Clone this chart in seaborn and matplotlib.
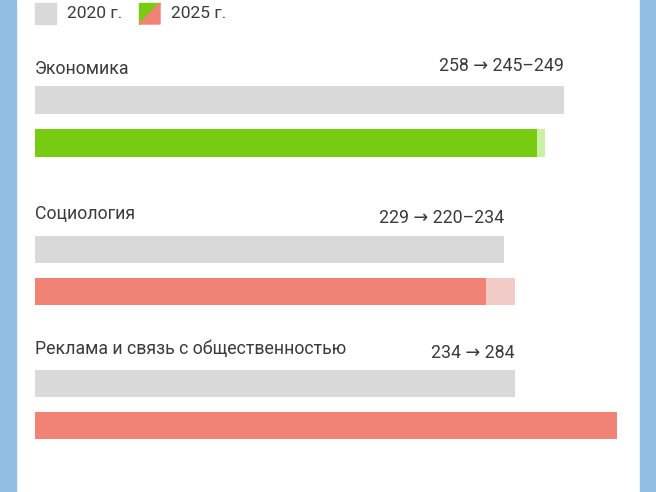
import matplotlib
matplotlib.use("Agg")
import matplotlib.pyplot as plt
from matplotlib.patches import Rectangle, Polygon
from matplotlib.transforms import blended_transform_factory
import seaborn as sns
import pandas as pd

# ---- data ----
categories = ["Экономика", "Социология", "Реклама и связь с общественностью"]
values_2020 = [258, 229, 234]
values_2025_low = [245, 220, 284]
values_2025_high = [249, 234, 284]
value_labels = ["258 → 245–249", "229 → 220–234", "234 → 284"]
legend_labels = ["2020 г.", "2025 г."]

# ---- style ----
sns.set_theme(style="white")
plt.rcParams["font.family"] = ["Roboto", "DejaVu Sans"]
TEXT = "#3b3b3b"
GRAY = "#d9d9d9"
main_colors = ["#77cc12", "#f08276", "#f08276"]
light_colors = ["#ccf0a6", "#f2cbc6", "#f2cbc6"]
BLUE = "#93bee4"
FS = 12.8

W, H = 656, 492
fig = plt.figure(figsize=(W / 100, H / 100), dpi=100)
fig.patch.set_facecolor("white")

# side strips
fig.add_artist(Rectangle((0, 0), 16 / W, 1, transform=fig.transFigure, color=BLUE, zorder=0))
fig.add_artist(Rectangle((640 / W, 0), 16 / W, 1, transform=fig.transFigure, color=BLUE, zorder=0))

def fy(py):
    return 1 - py / H

# legend
fig.add_artist(Rectangle((35 / W, fy(24)), 21 / W, 21 / H, transform=fig.transFigure, color=GRAY))
fig.text(67 / W, fy(14), legend_labels[0], fontsize=12.5, color=TEXT, va="center", ha="left")
x0, x1, y0, y1 = 139 / W, 160 / W, fy(24), fy(3)
fig.add_artist(Polygon([(x0, y0), (x0, y1), (x1, y1)], closed=True, transform=fig.transFigure, color=main_colors[0]))
fig.add_artist(Polygon([(x0, y0), (x1, y1), (x1, y0)], closed=True, transform=fig.transFigure, color=main_colors[1]))
fig.text(171 / W, fy(14), legend_labels[1], fontsize=12.5, color=TEXT, va="center", ha="left")

# layout per group: (axes top px, axes bottom px, label y px, value-label y px)
layout = [(78.5, 164.5, 69.5, 66), (229, 312, 214, 218), (363, 446, 349, 353)]
ax_left, ax_right = 35, 640
px_per_unit = 2.05
xmax = (ax_right - ax_left) / px_per_unit

for i, cat in enumerate(categories):
    top, bot, ly, vy = layout[i]
    ax = fig.add_axes([ax_left / W, fy(bot), (ax_right - ax_left) / W, (bot - top) / H])
    rows = ["2020", "2025"]
    df_hi = pd.DataFrame({"year": rows, "value": [values_2020[i], values_2025_high[i]]})
    df_lo = pd.DataFrame({"year": rows, "value": [values_2020[i], values_2025_low[i]]})
    sns.barplot(data=df_hi, x="value", y="year", hue="year", orient="h",
                palette=[GRAY, light_colors[i]], width=0.65, legend=False, ax=ax,
                saturation=1, linewidth=0)
    sns.barplot(data=df_lo, x="value", y="year", hue="year", orient="h",
                palette=[GRAY, main_colors[i]], width=0.65, legend=False, ax=ax,
                saturation=1, linewidth=0)
    ax.set_xlim(0, xmax)
    ax.set_ylim(1.5, -0.5)
    ax.axis("off")
    fig.text(ax_left / W, fy(ly), cat, fontsize=FS, color=TEXT, va="center", ha="left")
    tr = blended_transform_factory(ax.transData, fig.transFigure)
    ax.text(values_2020[i], fy(vy), value_labels[i], transform=tr, fontsize=FS,
            color=TEXT, va="center", ha="right", clip_on=False)

fig.savefig("out.png", dpi=100, facecolor="white")
